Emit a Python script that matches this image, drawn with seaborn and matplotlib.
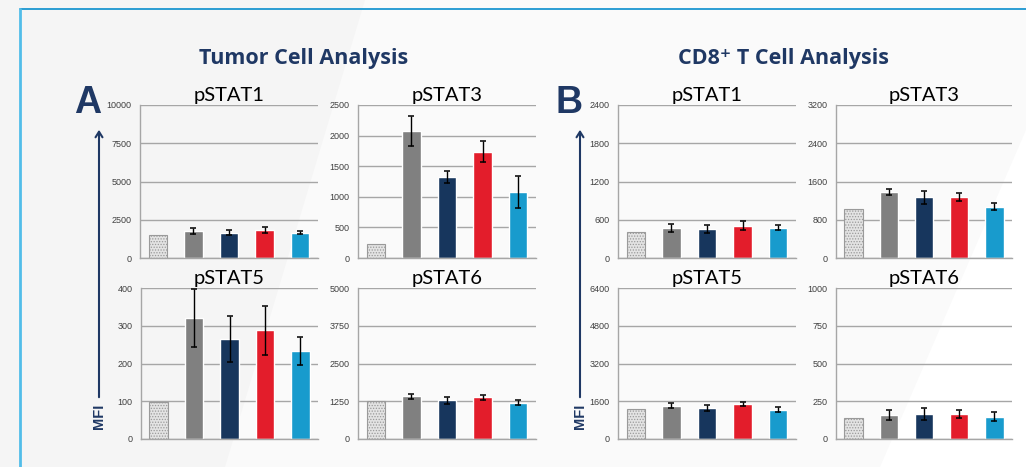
import matplotlib
matplotlib.use("Agg")
import matplotlib.pyplot as plt
import seaborn as sns
import pandas as pd
from matplotlib.patches import Polygon, FancyArrowPatch
from matplotlib.lines import Line2D

# groups (unlabelled in the figure)
groups = ["ctrl", "g2", "g3", "g4", "g5"]
colors = ["#e3e3e3", "#808080", "#17365d", "#e31d2b", "#189bcd"]

# Tumor cell analysis
tumor_pstat1 = [1500, 1780, 1650, 1850, 1650]
tumor_pstat1_err = [0, 200, 150, 200, 100]
tumor_pstat3 = [228, 2076, 1326, 1734, 1082]
tumor_pstat3_err = [0, 240, 100, 170, 265]
tumor_pstat5 = [98, 320, 265, 288, 233]
tumor_pstat5_err = [0, 77, 60, 65, 37]
tumor_pstat6 = [1242, 1408, 1275, 1375, 1208]
tumor_pstat6_err = [0, 70, 120, 95, 70]

# CD8+ T cell analysis
cd8_pstat1 = [407, 475, 459, 506, 475]
cd8_pstat1_err = [0, 65, 60, 68, 37]
cd8_pstat3 = [1023, 1384, 1266, 1280, 1071]
cd8_pstat3_err = [0, 63, 143, 80, 77]
cd8_pstat5 = [1280, 1407, 1322, 1491, 1238]
cd8_pstat5_err = [0, 100, 140, 77, 113]
cd8_pstat6 = [138, 159, 166, 166, 149]
cd8_pstat6_err = [0, 30, 40, 28, 27]

ticks_t1 = [0, 2500, 5000, 7500, 10000]
ticks_t3 = [0, 500, 1000, 1500, 2000, 2500]
ticks_t5 = [0, 100, 200, 300, 400]
ticks_t6 = [0, 1250, 2500, 3750, 5000]
ticks_c1 = [0, 600, 1200, 1800, 2400]
ticks_c3 = [0, 800, 1600, 2400, 3200]
ticks_c5 = [0, 1600, 3200, 4800, 6400]
ticks_c6 = [0, 250, 500, 750, 1000]

sns.set_style("white")
plt.rcParams["font.family"] = ["Liberation Sans", "DejaVu Sans"]
plt.rcParams["hatch.linewidth"] = 0.6

W, H = 1026, 467
fig = plt.figure(figsize=(W / 100, H / 100), dpi=100)
fig.patch.set_facecolor("#f5f5f5")

# soft diagonal background band
fig.add_artist(Polygon([(365 / W, 1), (1, 1), (1, 0), (225 / W, 0)],
                       closed=True, transform=fig.transFigure,
                       facecolor="#fafafa", edgecolor="none", zorder=0))
fig.add_artist(Polygon([(1, 1 - 130 / H), (1, 0), (880 / W, 0)],
                       closed=True, transform=fig.transFigure,
                       facecolor="#ffffff", edgecolor="none", zorder=0))

# frame lines
fig.add_artist(Line2D([20 / W, 1], [1 - 9 / H, 1 - 9 / H], transform=fig.transFigure,
                      color="#1b96d0", lw=1.3))
fig.add_artist(Line2D([20 / W, 20 / W], [0, 1 - 9 / H], transform=fig.transFigure,
                      color="#52bde9", lw=2))


def px_rect(x0, x1, y0, y1):
    return [x0 / W, 1 - y1 / H, (x1 - x0) / W, (y1 - y0) / H]


def panel(rect, title, vals, errs, ticks):
    ax = fig.add_axes(rect)
    ax.set_facecolor("none")
    df = pd.DataFrame({"group": groups, "MFI": vals})
    sns.barplot(data=df, x="group", y="MFI", hue="group", palette=colors,
                legend=False, width=0.52, saturation=1, errorbar=None, ax=ax, zorder=2)
    first = ax.patches[0]
    first.set_edgecolor("#9a9a9a")
    first.set_linewidth(0.8)
    first.set_hatch("......")
    ax.errorbar(range(1, len(groups)), vals[1:], yerr=errs[1:], fmt="none",
                ecolor="black", elinewidth=1, capsize=2.4, capthick=1.1, zorder=3)
    ax.set_xlim(-0.5, 4.5)
    ax.set_ylim(0, ticks[-1])
    ax.set_yticks(ticks)
    ax.set_yticklabels([str(t) for t in ticks])
    ax.set_xticks([])
    ax.set_xlabel("")
    ax.set_ylabel("")
    ax.grid(axis="y", color="#a6a6a6", lw=1)
    ax.set_axisbelow(True)
    for s in ["top", "right"]:
        ax.spines[s].set_visible(False)
    for s in ["left", "bottom"]:
        ax.spines[s].set_color("#a6a6a6")
        ax.spines[s].set_linewidth(1)
    ax.tick_params(axis="y", length=0, pad=6, labelsize=6.5, labelcolor="#404040")
    ax.set_title(title, fontsize=14.5, family=["Lato", "DejaVu Sans"], color="black", pad=3)
    return ax


panel(px_rect(140, 318, 105, 258), "pSTAT1", tumor_pstat1, tumor_pstat1_err, ticks_t1)
panel(px_rect(358, 536, 105, 258), "pSTAT3", tumor_pstat3, tumor_pstat3_err, ticks_t3)
panel(px_rect(141, 318, 288, 439), "pSTAT5", tumor_pstat5, tumor_pstat5_err, ticks_t5)
panel(px_rect(358, 536, 288, 439), "pSTAT6", tumor_pstat6, tumor_pstat6_err, ticks_t6)
panel(px_rect(618, 796, 105, 258), "pSTAT1", cd8_pstat1, cd8_pstat1_err, ticks_c1)
panel(px_rect(836, 1012, 105, 258), "pSTAT3", cd8_pstat3, cd8_pstat3_err, ticks_c3)
panel(px_rect(618, 796, 288, 439), "pSTAT5", cd8_pstat5, cd8_pstat5_err, ticks_c5)
panel(px_rect(836, 1012, 288, 439), "pSTAT6", cd8_pstat6, cd8_pstat6_err, ticks_c6)

navy = "#1f3864"
head_font = ["Open Sans", "DejaVu Sans"]
fig.text(304 / W, 1 - 64 / H, "Tumor Cell Analysis", ha="center", va="baseline",
         fontsize=15.5, fontweight="bold", color=navy, family=head_font)
fig.text(784 / W, 1 - 64 / H, "CD8\u207a T Cell Analysis", ha="center", va="baseline",
         fontsize=15.5, fontweight="bold", color=navy, family=head_font)

for letter, x in [("A", 74), ("B", 556)]:
    fig.text(x / W, 1 - 113 / H, letter, ha="left", va="baseline",
             fontsize=27, fontweight="bold", color=navy)

for x in [99, 580]:
    fig.add_artist(FancyArrowPatch((x / W, 1 - 400 / H), (x / W, 1 - 127 / H),
                                   transform=fig.transFigure, arrowstyle="->,head_length=4,head_width=2.5",
                                   color=navy, lw=1.5, mutation_scale=1))
    fig.text(x / W, 1 - 416 / H, "MFI", rotation=90, ha="center", va="center",
             fontsize=10.5, fontweight="bold", color=navy)

fig.savefig("out.png", dpi=100, facecolor=fig.get_facecolor())
